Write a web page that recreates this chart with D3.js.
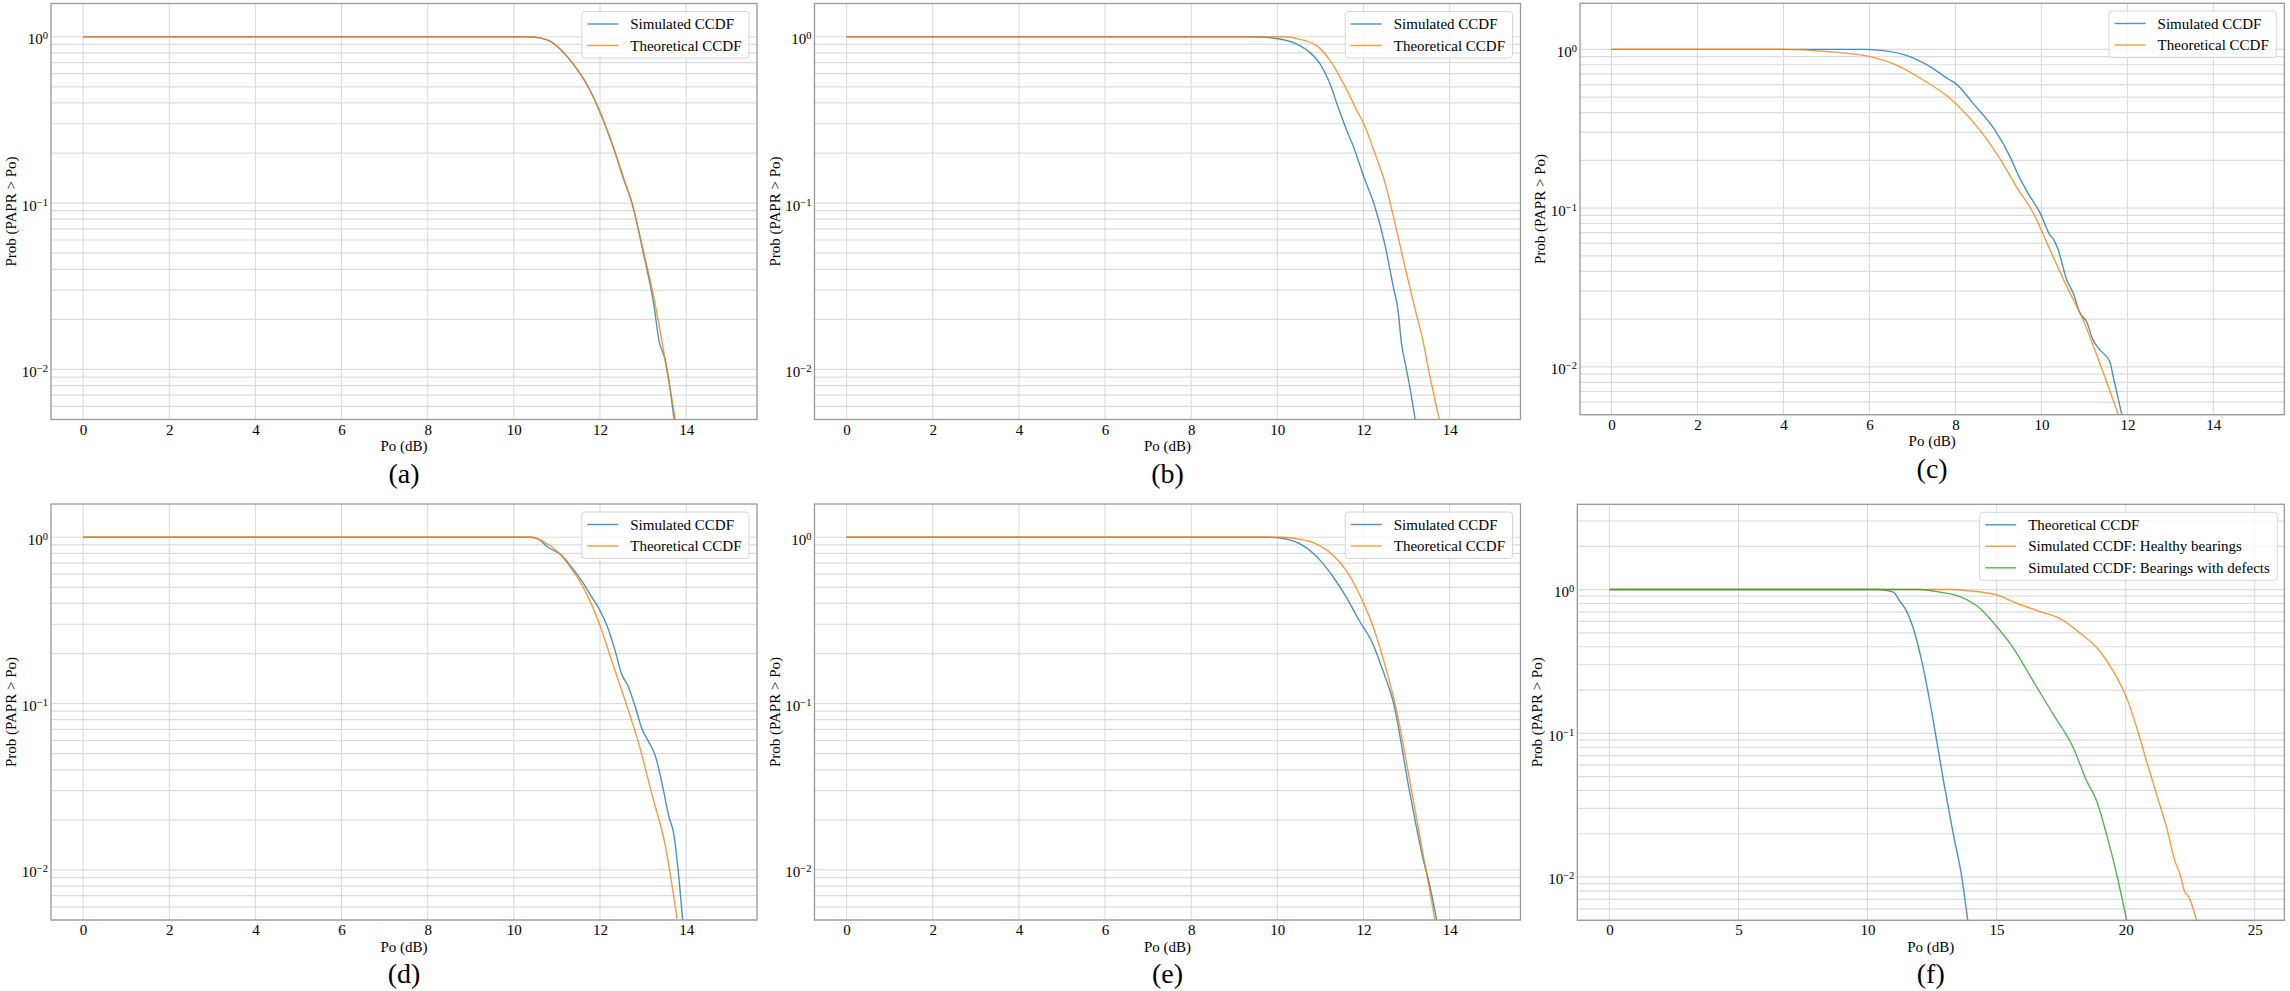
<!DOCTYPE html>
<html>
<head>
<meta charset="utf-8">
<script src="https://cdn.jsdelivr.net/npm/d3@7"></script>
<style>
  body { margin: 0; background: #fff; }
  text { font-family: "Liberation Serif", "Times New Roman", serif; fill: #000; }
</style>
</head>
<body>
<svg id="chart" width="2290" height="991"></svg>
<script>
// [Po (dB), Prob(PAPR > Po)]
const aSim  = [[0,1],[10.3,1],[10.6,0.984],[10.85,0.938],[11.1,0.83],[11.4,0.673],[11.7,0.515],[12.0,0.352],[12.3,0.221],[12.55,0.139],[12.74,0.101],[13.0,0.051],[13.25,0.0245],[13.38,0.0145],[13.45,0.0128],[13.5,0.0118],[13.58,0.0092],[13.72,0.005]];
const aTheo = [[0,1],[10.3,1],[10.6,0.985],[10.85,0.94],[11.1,0.832],[11.4,0.676],[11.7,0.513],[12.0,0.355],[12.3,0.219],[12.55,0.141],[12.74,0.1],[13.0,0.0525],[13.3,0.0234],[13.55,0.01],[13.75,0.005]];
const bSim  = [[0,1],[9.4,1],[9.98,0.977],[10.45,0.904],[10.76,0.803],[11.0,0.682],[11.23,0.516],[11.39,0.391],[11.59,0.282],[11.78,0.214],[12.02,0.141],[12.25,0.0977],[12.49,0.0575],[12.69,0.0316],[12.8,0.0229],[12.88,0.0145],[12.98,0.0105],[13.05,0.0085],[13.2,0.005]];
const bTheo = [[0,1],[10.1,1],[10.6,0.955],[10.92,0.881],[11.23,0.716],[11.55,0.516],[11.86,0.355],[12.02,0.295],[12.25,0.204],[12.49,0.135],[12.73,0.0759],[12.96,0.0417],[13.2,0.0229],[13.39,0.0145],[13.51,0.01],[13.76,0.005]];
const cSim  = [[0,1],[5.8,1],[6.32,0.982],[6.94,0.899],[7.41,0.778],[7.87,0.641],[8.0,0.611],[8.41,0.457],[8.92,0.31],[9.27,0.211],[9.46,0.162],[9.69,0.124],[9.97,0.0933],[10.2,0.0676],[10.29,0.0631],[10.39,0.0546],[10.59,0.0353],[10.74,0.0291],[10.9,0.0218],[11.05,0.0193],[11.2,0.0148],[11.36,0.0128],[11.59,0.0108],[11.67,0.0087],[11.87,0.005]];
const cTheo = [[0,1],[3.9,1],[5.08,0.966],[6.01,0.899],[6.63,0.796],[7.25,0.641],[7.87,0.492],[8.0,0.457],[8.57,0.31],[9.03,0.206],[9.42,0.136],[9.81,0.0933],[10.2,0.0546],[10.59,0.0321],[10.97,0.0198],[11.36,0.0105],[11.79,0.005]];
const dSim  = [[0,1],[10.4,1],[10.56,0.977],[10.79,0.871],[11.09,0.787],[11.34,0.661],[11.61,0.53],[11.81,0.437],[12.0,0.363],[12.16,0.295],[12.35,0.209],[12.5,0.151],[12.66,0.126],[12.82,0.0955],[12.97,0.0708],[13.13,0.0589],[13.28,0.049],[13.44,0.0331],[13.6,0.0209],[13.71,0.0166],[13.83,0.0091],[13.92,0.005]];
const dTheo = [[0,1],[10.4,1],[10.72,0.933],[11.03,0.813],[11.34,0.646],[11.65,0.479],[12.0,0.295],[12.27,0.182],[12.58,0.105],[12.9,0.0575],[13.2,0.0288],[13.52,0.0138],[13.79,0.0051]];
const eSim  = [[0,1],[9.8,1],[10.2,0.977],[10.6,0.891],[11.0,0.724],[11.3,0.575],[11.6,0.437],[11.9,0.316],[12.2,0.234],[12.45,0.158],[12.7,0.1],[13.05,0.0316],[13.4,0.0112],[13.5,0.0089],[13.7,0.005]];
const eTheo = [[0,1],[10.1,1],[10.5,0.977],[10.9,0.912],[11.3,0.776],[11.6,0.631],[11.9,0.457],[12.2,0.302],[12.5,0.17],[12.75,0.0955],[13.1,0.0316],[13.45,0.01],[13.66,0.005]];
const fTheo    = [[0,1],[10.45,1],[11.0,0.959],[11.26,0.826],[11.52,0.703],[11.77,0.54],[12.16,0.284],[12.55,0.121],[12.94,0.0468],[13.32,0.02],[13.65,0.01],[13.88,0.005]];
const fHealthy = [[0,1],[13.2,1],[13.84,0.984],[15.0,0.918],[15.78,0.803],[16.68,0.703],[17.46,0.627],[18.23,0.498],[19.0,0.372],[19.52,0.27],[20.04,0.176],[20.43,0.109],[20.81,0.064],[21.2,0.0375],[21.59,0.022],[21.91,0.0129],[22.1,0.0105],[22.3,0.0078],[22.42,0.0074],[22.75,0.005]];
const fDefects = [[0,1],[12.03,1],[12.8,0.959],[13.58,0.893],[14.35,0.741],[15.0,0.553],[15.65,0.392],[16.42,0.23],[17.2,0.135],[17.97,0.0794],[18.49,0.0465],[18.88,0.0337],[19.26,0.0198],[19.65,0.0105],[20.04,0.005]];

const ccdfLabels = ["Simulated CCDF", "Theoretical CCDF"];
const fLabels = ["Theoretical CCDF", "Simulated CCDF: Healthy bearings", "Simulated CCDF: Bearings with defects"];
const panelNames = ["(a)", "(b)", "(c)", "(d)", "(e)", "(f)"];
const xTicksDb = [0, 2, 4, 6, 8, 10, 12, 14];
const xTicksF = [0, 5, 10, 15, 20, 25];
const yTicks = [1, 0.1, 0.01];
const yTickExp = ["0", "\u22121", "\u22122"];
const colors = ["#1f77b4", "#ff7f0e", "#2ca02c"];

const svg = d3.select("#chart");
const yBottom = 0.005;

// box = [left, top, right, bottom] of each axes in px
const panels = [
    {box: [51, 3.5, 757, 419.5],     xDom: [-0.745, 15.645], yTop: 1.585, ticks: xTicksDb, series: [aSim, aTheo], labels: ccdfLabels, leg: [8, 8]},
    {box: [814.5, 3.5, 1520.5, 419.5], xDom: [-0.745, 15.645], yTop: 1.585, ticks: xTicksDb, series: [bSim, bTheo], labels: ccdfLabels, leg: [8, 8]},
    {box: [1580, 3.3, 2284.3, 414.7], xDom: [-0.733, 15.65], yTop: 1.95, ticks: xTicksDb, series: [cSim, cTheo], labels: ccdfLabels, leg: [8, 7.7]},
    {box: [51, 504, 757, 920],       xDom: [-0.745, 15.645], yTop: 1.585, ticks: xTicksDb, series: [dSim, dTheo], labels: ccdfLabels, leg: [8, 8]},
    {box: [814.5, 504, 1520.5, 920],  xDom: [-0.745, 15.645], yTop: 1.585, ticks: xTicksDb, series: [eSim, eTheo], labels: ccdfLabels, leg: [8, 8]},
    {box: [1577.3, 504.3, 2284.3, 920.3], xDom: [-1.245, 26.145], yTop: 3.92, ticks: xTicksF, series: [fTheo, fHealthy, fDefects], labels: fLabels, leg: [7, 8]},
];

panels.forEach((p, i) => {
    const [x0, y0, x1, y1] = p.box;
    const x = d3.scaleLinear().domain(p.xDom).range([x0, x1]);
    const y = d3.scaleLog().domain([yBottom, p.yTop]).range([y1, y0]);
    const g = svg.append("g");

    g.append("clipPath").attr("id", "clip" + i)
        .append("rect").attr("x", x0).attr("y", y0).attr("width", x1 - x0).attr("height", y1 - y0);

    // grid: every major and minor decade line, vertical at x ticks
    const hLines = [];
    for (let e = -3; e <= 1; e++)
        for (let m = 1; m < 10; m++) {
            const v = m * Math.pow(10, e);
            if (v >= yBottom && v <= p.yTop) hLines.push(v);
        }
    g.append("g").selectAll("line").data(hLines).join("line")
        .attr("x1", x0).attr("x2", x1)
        .attr("y1", d => y(d)).attr("y2", d => y(d))
        .attr("stroke", "#dcdcdc").attr("stroke-width", 1.2);
    g.append("g").selectAll("line").data(p.ticks).join("line")
        .attr("x1", d => x(d)).attr("x2", d => x(d))
        .attr("y1", y0).attr("y2", y1)
        .attr("stroke", "#d8d8d8").attr("stroke-width", 1);

    // curves
    const line = d3.line().x(d => x(d[0])).y(d => y(d[1])).curve(d3.curveMonotoneX);
    g.append("g").attr("clip-path", `url(#clip${i})`)
        .selectAll("path").data(p.series).join("path")
        .attr("d", line)
        .attr("fill", "none")
        .attr("stroke", (d, k) => colors[k])
        .attr("stroke-opacity", 0.8)
        .attr("stroke-width", 1.4);

    // frame
    g.append("rect").attr("x", x0).attr("y", y0).attr("width", x1 - x0).attr("height", y1 - y0)
        .attr("fill", "none").attr("stroke", "#999").attr("stroke-width", 1.3);

    // x axis
    const xa = g.append("g").attr("transform", `translate(0,${y1})`)
        .call(d3.axisBottom(x).tickValues(p.ticks).tickSize(0).tickPadding(4.4));
    xa.select(".domain").remove();
    xa.selectAll("text").attr("font-family", null).attr("font-size", 15);

    // y tick labels 10^k
    g.append("g").selectAll("text").data(yTicks).join("text")
        .attr("x", x0 - 3).attr("y", d => y(d) + 7.4)
        .attr("text-anchor", "end").attr("font-size", 15)
        .text("10")
        .append("tspan").attr("font-size", 10.5).attr("dy", -5)
        .text((d, k) => yTickExp[k]);

    // axis titles and panel name
    const cx = (x0 + x1) / 2;
    g.append("text").attr("x", cx).attr("y", y1 + 31.5).attr("text-anchor", "middle")
        .attr("font-size", 15).text("Po (dB)");
    g.append("text").attr("transform", `translate(${x0 - 35},${(y0 + y1) / 2}) rotate(-90)`)
        .attr("text-anchor", "middle").attr("font-size", 15).text("Prob (PAPR > Po)");
    g.append("text").attr("x", cx).attr("y", y1 + 63).attr("text-anchor", "middle")
        .attr("font-size", 28).text(panelNames[i]);

    // legend
    const lg = g.append("g");
    const box = lg.append("rect");
    const rows = lg.selectAll("g").data(p.labels).join("g")
        .attr("transform", (d, k) => `translate(0,${12.5 + 21.5 * k})`);
    rows.append("line").attr("x1", 5.5).attr("x2", 36.5)
        .attr("stroke", (d, k) => colors[k]).attr("stroke-opacity", 0.8).attr("stroke-width", 1.4);
    const texts = rows.append("text").attr("x", 48.5).attr("y", 5).attr("font-size", 15).text(d => d);
    let tw = 0;
    texts.each(function () { tw = Math.max(tw, this.getComputedTextLength()); });
    const lw = 48.5 + tw + 7.5, lh = 25 + 21.5 * (p.labels.length - 1);
    box.attr("width", lw).attr("height", lh).attr("rx", 3)
        .attr("fill", "#fff").attr("fill-opacity", 0.8)
        .attr("stroke", "#d6d6d6").attr("stroke-width", 1);
    lg.attr("transform", `translate(${x1 - p.leg[0] - lw},${y0 + p.leg[1]})`);
});
</script>
</body>
</html>
